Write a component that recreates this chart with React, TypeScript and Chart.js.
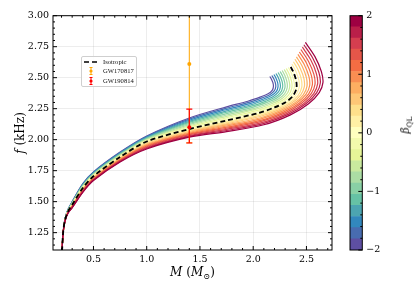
import React, { useEffect, useRef } from 'react';
import { Chart, registerables } from 'chart.js';
Chart.register(...registerables);

// ---------- data ----------
const betaValues = [-2.0, -1.8, -1.6, -1.4, -1.2, -1.0, -0.8, -0.6, -0.4, -0.2, 0.0, 0.2, 0.4, 0.6, 0.8, 1.0, 1.2, 1.4, 1.6, 1.8, 2.0];

// shared mass points of the low-mass branch (M_sun)
const lowMass = [0.205, 0.215, 0.232, 0.26, 0.3, 0.4, 0.5, 0.75, 1.0, 1.4, 1.75];
// f (kHz) at lowMass, one row per beta
const lowFreq = [
  [1.10, 1.25, 1.360, 1.435, 1.500, 1.645, 1.740, 1.900, 2.030, 2.175, 2.265],
  [1.10, 1.25, 1.359, 1.434, 1.498, 1.642, 1.737, 1.896, 2.026, 2.166, 2.254],
  [1.10, 1.25, 1.358, 1.432, 1.495, 1.638, 1.733, 1.892, 2.021, 2.157, 2.243],
  [1.10, 1.25, 1.357, 1.431, 1.493, 1.635, 1.730, 1.888, 2.017, 2.148, 2.232],
  [1.10, 1.25, 1.356, 1.429, 1.490, 1.631, 1.726, 1.884, 2.012, 2.139, 2.221],
  [1.10, 1.25, 1.355, 1.428, 1.488, 1.628, 1.723, 1.880, 2.008, 2.130, 2.210],
  [1.10, 1.25, 1.354, 1.426, 1.485, 1.624, 1.719, 1.876, 2.003, 2.121, 2.199],
  [1.10, 1.25, 1.353, 1.425, 1.483, 1.621, 1.716, 1.872, 1.999, 2.112, 2.188],
  [1.10, 1.25, 1.352, 1.423, 1.480, 1.617, 1.712, 1.868, 1.994, 2.103, 2.177],
  [1.10, 1.25, 1.351, 1.422, 1.478, 1.614, 1.709, 1.864, 1.990, 2.094, 2.166],
  [1.10, 1.25, 1.350, 1.420, 1.475, 1.610, 1.705, 1.860, 1.985, 2.085, 2.155],
  [1.10, 1.25, 1.349, 1.419, 1.473, 1.607, 1.702, 1.856, 1.979, 2.079, 2.146],
  [1.10, 1.25, 1.348, 1.417, 1.470, 1.603, 1.698, 1.852, 1.973, 2.072, 2.137],
  [1.10, 1.25, 1.347, 1.416, 1.468, 1.600, 1.695, 1.848, 1.967, 2.066, 2.128],
  [1.10, 1.25, 1.346, 1.414, 1.465, 1.596, 1.691, 1.844, 1.961, 2.059, 2.119],
  [1.10, 1.25, 1.345, 1.413, 1.463, 1.593, 1.688, 1.840, 1.955, 2.053, 2.110],
  [1.10, 1.25, 1.344, 1.411, 1.460, 1.589, 1.684, 1.836, 1.949, 2.046, 2.101],
  [1.10, 1.25, 1.343, 1.410, 1.458, 1.586, 1.681, 1.832, 1.943, 2.040, 2.092],
  [1.10, 1.25, 1.342, 1.408, 1.455, 1.582, 1.677, 1.828, 1.937, 2.033, 2.083],
  [1.10, 1.25, 1.341, 1.407, 1.453, 1.579, 1.674, 1.824, 1.931, 2.027, 2.074],
  [1.10, 1.25, 1.340, 1.405, 1.450, 1.575, 1.670, 1.820, 1.925, 2.020, 2.065],
];
// high-mass branch (turning region), mass per beta
const highMass = [
  [1.95, 2.07, 2.14, 2.18, 2.19, 2.185, 2.17, 2.156],
  [1.96, 2.083, 2.156, 2.199, 2.212, 2.207, 2.191, 2.175],
  [1.97, 2.096, 2.172, 2.218, 2.233, 2.229, 2.212, 2.195],
  [1.98, 2.109, 2.188, 2.237, 2.255, 2.251, 2.233, 2.214],
  [1.99, 2.122, 2.204, 2.256, 2.276, 2.273, 2.254, 2.234],
  [2.00, 2.135, 2.22, 2.275, 2.298, 2.295, 2.275, 2.253],
  [2.01, 2.148, 2.236, 2.294, 2.319, 2.317, 2.296, 2.272],
  [2.02, 2.161, 2.252, 2.313, 2.341, 2.339, 2.317, 2.292],
  [2.03, 2.174, 2.268, 2.332, 2.362, 2.361, 2.338, 2.311],
  [2.04, 2.187, 2.284, 2.351, 2.384, 2.383, 2.359, 2.331],
  [2.05, 2.20, 2.30, 2.37, 2.405, 2.405, 2.38, 2.35],
  [2.055, 2.215, 2.322, 2.395, 2.43, 2.429, 2.40, 2.364],
  [2.06, 2.23, 2.344, 2.42, 2.455, 2.452, 2.42, 2.378],
  [2.065, 2.245, 2.366, 2.445, 2.48, 2.476, 2.44, 2.392],
  [2.07, 2.26, 2.388, 2.47, 2.505, 2.499, 2.46, 2.406],
  [2.075, 2.275, 2.41, 2.495, 2.53, 2.523, 2.48, 2.42],
  [2.08, 2.29, 2.432, 2.52, 2.555, 2.546, 2.50, 2.434],
  [2.085, 2.305, 2.454, 2.545, 2.58, 2.57, 2.52, 2.448],
  [2.09, 2.32, 2.476, 2.57, 2.605, 2.593, 2.54, 2.462],
  [2.095, 2.335, 2.498, 2.595, 2.63, 2.617, 2.56, 2.476],
  [2.10, 2.35, 2.52, 2.62, 2.655, 2.64, 2.58, 2.49],
];
const highFreq = [
  [2.31, 2.345, 2.37, 2.40, 2.43, 2.46, 2.49, 2.51],
  [2.301, 2.337, 2.363, 2.395, 2.428, 2.461, 2.495, 2.518],
  [2.291, 2.328, 2.356, 2.39, 2.426, 2.462, 2.50, 2.526],
  [2.282, 2.32, 2.349, 2.385, 2.424, 2.463, 2.505, 2.534],
  [2.272, 2.311, 2.342, 2.38, 2.422, 2.464, 2.51, 2.542],
  [2.263, 2.303, 2.335, 2.375, 2.42, 2.465, 2.515, 2.55],
  [2.253, 2.294, 2.328, 2.37, 2.418, 2.466, 2.52, 2.558],
  [2.244, 2.286, 2.321, 2.365, 2.416, 2.467, 2.525, 2.566],
  [2.234, 2.277, 2.314, 2.36, 2.414, 2.468, 2.53, 2.574],
  [2.225, 2.269, 2.307, 2.355, 2.412, 2.469, 2.535, 2.582],
  [2.215, 2.26, 2.30, 2.35, 2.41, 2.47, 2.54, 2.59],
  [2.206, 2.254, 2.299, 2.353, 2.415, 2.478, 2.553, 2.61],
  [2.196, 2.248, 2.298, 2.356, 2.42, 2.486, 2.566, 2.629],
  [2.187, 2.242, 2.297, 2.359, 2.425, 2.494, 2.579, 2.649],
  [2.177, 2.236, 2.296, 2.362, 2.43, 2.502, 2.592, 2.668],
  [2.168, 2.23, 2.295, 2.365, 2.435, 2.51, 2.605, 2.688],
  [2.158, 2.224, 2.294, 2.368, 2.44, 2.518, 2.618, 2.707],
  [2.149, 2.218, 2.293, 2.371, 2.445, 2.526, 2.631, 2.727],
  [2.139, 2.212, 2.292, 2.374, 2.45, 2.534, 2.644, 2.746],
  [2.13, 2.206, 2.291, 2.377, 2.455, 2.542, 2.657, 2.766],
  [2.12, 2.20, 2.29, 2.38, 2.46, 2.55, 2.67, 2.785],
];

const isoMass = [0.205, 0.215, 0.232, 0.26, 0.3, 0.4, 0.5, 0.75, 1.0, 1.4, 1.75, 2.05, 2.20, 2.30, 2.37, 2.405, 2.405, 2.38, 2.35];
const isoFreq = [1.10, 1.25, 1.350, 1.420, 1.475, 1.610, 1.705, 1.860, 1.985, 2.085, 2.155, 2.215, 2.26, 2.30, 2.35, 2.41, 2.47, 2.54, 2.59];

const eventNames = ['GW170817', 'GW190814'];
const eventMass = [1.4, 1.4];
const eventFreq = [2.61, 2.10];
const eventFreqLow = [1.975, 1.973];
const eventFreqHigh = [3.35, 2.247];
const eventColors = ['#ffa500', '#ff0000'];

const xTicks = [0.5, 1.0, 1.5, 2.0, 2.5];
const yTicks = [1.25, 1.5, 1.75, 2.0, 2.25, 2.5, 2.75, 3.0];
const cbTicks = [-2, -1, 0, 1, 2];

// ---------- colours ----------
const SPECTRAL = [
  [158, 1, 66], [213, 62, 79], [244, 109, 67], [253, 174, 97], [254, 224, 139],
  [255, 255, 191], [230, 245, 152], [171, 221, 164], [102, 194, 165], [50, 136, 189], [94, 79, 162],
];
function spectral(v: number) {
  const s = Math.max(0, Math.min(1, v)) * 10;
  const i = Math.min(9, Math.floor(s));
  const t = s - i;
  const a = SPECTRAL[i], b = SPECTRAL[i + 1];
  const c = a.map((av, j) => Math.round(av + (b[j] - av) * t));
  return `rgb(${c[0]},${c[1]},${c[2]})`;
}
const colorForBeta = (beta: number) => spectral((2 - beta) / 4); // Spectral_r

const SERIF = "'DejaVu Serif', serif";

// ---------- plugins ----------
const errorBarPlugin = {
  id: 'errorBars',
  beforeDatasetDraw(chart: any, args: any) {
    const ds = chart.data.datasets[args.index];
    if (!ds.errLow) return;
    const { ctx, chartArea: a, scales } = chart;
    const x = scales.x, y = scales.y;
    ctx.save();
    ctx.beginPath();
    ctx.rect(a.left, a.top, a.right - a.left, a.bottom - a.top);
    ctx.clip();
    ctx.strokeStyle = ds.borderColor;
    ctx.lineWidth = ds.errWidth;
    ds.data.forEach((p: any, i: number) => {
      const px = x.getPixelForValue(p.x);
      const lo = y.getPixelForValue(ds.errLow[i]);
      const hi = y.getPixelForValue(ds.errHigh[i]);
      ctx.beginPath();
      ctx.moveTo(px, lo); ctx.lineTo(px, hi);
      ctx.moveTo(px - 3, lo); ctx.lineTo(px + 3, lo);
      ctx.moveTo(px - 3, hi); ctx.lineTo(px + 3, hi);
      ctx.stroke();
    });
    ctx.restore();
  },
};

const frameTicksPlugin = {
  id: 'frameTicks',
  afterDraw(chart: any) {
    const { ctx, chartArea: a, scales } = chart;
    const x = scales.x, y = scales.y;
    ctx.save();
    ctx.strokeStyle = '#000';
    ctx.lineWidth = 1;
    ctx.strokeRect(a.left, a.top, a.right - a.left, a.bottom - a.top);
    ctx.beginPath();
    for (let i = Math.ceil(x.min * 10); i <= Math.floor(x.max * 10); i++) {
      const px = x.getPixelForValue(i / 10);
      const len = i % 5 === 0 ? 4 : 2;
      ctx.moveTo(px, a.bottom); ctx.lineTo(px, a.bottom - len);
      ctx.moveTo(px, a.top); ctx.lineTo(px, a.top + len);
    }
    for (let i = Math.ceil(y.min * 20); i <= Math.floor(y.max * 20); i++) {
      const py = y.getPixelForValue(i / 20);
      const len = i % 5 === 0 ? 4 : 2;
      ctx.moveTo(a.left, py); ctx.lineTo(a.left + len, py);
      ctx.moveTo(a.right, py); ctx.lineTo(a.right - len, py);
    }
    ctx.stroke();
    ctx.restore();
  },
};

const cbFramePlugin = {
  id: 'cbFrame',
  afterDraw(chart: any) {
    const { ctx, chartArea: a, scales } = chart;
    const y = scales.y;
    ctx.save();
    ctx.strokeStyle = '#000';
    ctx.lineWidth = 1;
    ctx.strokeRect(a.left, a.top, a.right - a.left, a.bottom - a.top);
    ctx.beginPath();
    for (let i = -10; i <= 10; i++) {
      const py = y.getPixelForValue(i / 5);
      const len = i % 5 === 0 ? 4 : 2;
      ctx.moveTo(a.right, py); ctx.lineTo(a.right - len, py);
    }
    ctx.stroke();
    ctx.restore();
  },
};

export default function App() {
  const mainRef = useRef<HTMLCanvasElement>(null);
  const cbRef = useRef<HTMLCanvasElement>(null);

  useEffect(() => {
    const curveSets = betaValues.map((beta, k) => {
      const pts = lowMass.map((m, j) => ({ x: m, y: lowFreq[k][j] }))
        .concat(highMass[k].map((m, j) => ({ x: m, y: highFreq[k][j] })));
      return {
        data: pts,
        showLine: true,
        borderColor: colorForBeta(beta),
        borderWidth: 1.2,
        pointRadius: 0,
        tension: 0.3,
        fill: false,
      };
    }).reverse();

    const eventSets = eventNames.map((name, i) => ({
      label: name,
      data: [{ x: eventMass[i], y: eventFreq[i] }],
      errLow: [eventFreqLow[i]],
      errHigh: [eventFreqHigh[i]],
      errWidth: i === 1 ? 1.2 : 1,
      borderColor: eventColors[i],
      backgroundColor: eventColors[i],
      pointRadius: 2,
      pointBorderWidth: 0,
      showLine: false,
    })).reverse();

    const isoSet = {
      label: 'Isotropic',
      data: isoMass.map((m, j) => ({ x: m, y: isoFreq[j] })),
      showLine: true,
      borderColor: '#000',
      borderWidth: 1.8,
      borderDash: [5, 3],
      pointRadius: 0,
      tension: 0.3,
      fill: false,
    };

    const tickFont = { family: SERIF, size: 9.5 };

    const main = new Chart(mainRef.current as HTMLCanvasElement, {
      type: 'scatter',
      data: { datasets: [...eventSets, isoSet, ...curveSets] as any },
      options: {
        animation: false,
        responsive: false,
        devicePixelRatio: 1,
        layout: { padding: { left: 0, top: 15.7, right: 83, bottom: 0 } },
        plugins: { legend: { display: false }, tooltip: { enabled: false } },
        scales: {
          x: {
            type: 'linear',
            min: 0.12,
            max: 2.74,
            afterBuildTicks: (s: any) => { s.ticks = xTicks.map((v) => ({ value: v })); },
            afterFit: (s: any) => { s.height = 41; },
            grid: { color: 'rgba(0,0,0,0.09)', lineWidth: 0.8, drawTicks: false },
            border: { display: false },
            ticks: {
              color: '#000', font: tickFont, padding: 4, maxRotation: 0, autoSkip: false,
              callback: (v: any) => Number(v).toFixed(1),
            },
          },
          y: {
            type: 'linear',
            min: 1.11,
            max: 3.0,
            afterBuildTicks: (s: any) => { s.ticks = yTicks.map((v) => ({ value: v })); },
            afterFit: (s: any) => { s.width = 53; },
            grid: { color: 'rgba(0,0,0,0.09)', lineWidth: 0.8, drawTicks: false },
            border: { display: false },
            ticks: {
              color: '#000', font: tickFont, padding: 4, autoSkip: false,
              callback: (v: any) => Number(v).toFixed(2),
            },
          },
        },
      } as any,
      plugins: [errorBarPlugin, frameTicksPlugin],
    });

    const nb = betaValues.length;
    const bandSets = betaValues.map((beta, i) => ({
      data: [[-2 + (i * 4) / nb, -2 + ((i + 1) * 4) / nb]],
      backgroundColor: colorForBeta(beta),
      borderWidth: 0,
      barPercentage: 1,
      categoryPercentage: 1,
      grouped: false,
    }));

    const cb = new Chart(cbRef.current as HTMLCanvasElement, {
      type: 'bar',
      data: { labels: [''], datasets: bandSets as any },
      options: {
        animation: false,
        responsive: false,
        devicePixelRatio: 1,
        layout: { padding: { left: 10, top: 15.7, right: 0, bottom: 41 } },
        plugins: { legend: { display: false }, tooltip: { enabled: false } },
        scales: {
          x: { display: false },
          y: {
            position: 'right',
            min: -2,
            max: 2,
            afterBuildTicks: (s: any) => { s.ticks = cbTicks.map((v) => ({ value: v })); },
            afterFit: (s: any) => { s.width = 52.7; },
            grid: { display: false, drawTicks: false },
            border: { display: false },
            ticks: {
              color: '#000', font: tickFont, padding: 4,
              callback: (v: any) => (Number(v) < 0 ? '\u2212' + Math.abs(Number(v)) : String(v)),
            },
          },
        },
      } as any,
      plugins: [cbFramePlugin],
    });

    return () => { main.destroy(); cb.destroy(); };
  }, []);

  const legendRow = (top: number, sample: React.ReactNode, text: string) => (
    <div style={{ position: 'absolute', left: 0, top, height: 10, width: '100%' }}>
      <div style={{ position: 'absolute', left: 1, top: 0 }}>{sample}</div>
      <div style={{ position: 'absolute', left: 21, top: 0, lineHeight: '10px', whiteSpace: 'nowrap', color: '#111' }}>{text}</div>
    </div>
  );
  const errSample = (c: string) => (
    <svg width={16} height={10}>
      <line x1={8} y1={1.5} x2={8} y2={8.5} stroke={c} strokeWidth={1} />
      <line x1={6.5} y1={1.5} x2={9.5} y2={1.5} stroke={c} strokeWidth={1} />
      <line x1={6.5} y1={8.5} x2={9.5} y2={8.5} stroke={c} strokeWidth={1} />
      <circle cx={8} cy={5} r={1.6} fill={c} />
    </svg>
  );

  return (
    <div style={{ position: 'fixed', left: 0, top: 0, width: 415, height: 291, background: '#fff', overflow: 'hidden', fontFamily: SERIF }}>
      <canvas ref={mainRef} width={415} height={291} style={{ position: 'absolute', left: 0, top: 0 }} />
      <canvas ref={cbRef} width={75} height={291} style={{ position: 'absolute', left: 340, top: 0 }} />

      <div style={{
        position: 'absolute', left: 81, top: 56, width: 56, height: 31, boxSizing: 'border-box',
        border: '1px solid #cfcfcf', borderRadius: 2, background: 'rgba(255,255,255,0.85)',
        fontFamily: "'Liberation Serif', serif", fontSize: 6.6,
      }}>
        {legendRow(0, (
          <svg width={16} height={10}>
            <line x1={1} y1={5} x2={15} y2={5} stroke="#000" strokeWidth={1.6} strokeDasharray="5 3" />
          </svg>
        ), 'Isotropic')}
        {legendRow(9, errSample(eventColors[0]), eventNames[0])}
        {legendRow(18.5, errSample(eventColors[1]), eventNames[1])}
      </div>

      <div style={{ position: 'absolute', left: 20, top: 133, transform: 'translate(-50%, -50%) rotate(-90deg)', whiteSpace: 'nowrap', fontSize: 12, color: '#000' }}>
        <i>f</i> (kHz)
      </div>
      <div style={{ position: 'absolute', left: 192.5, top: 273, transform: 'translate(-50%, -50%)', whiteSpace: 'nowrap', fontSize: 12, color: '#000' }}>
        <i>M</i> (<i>M</i><sub style={{ fontSize: '70%' }}>⊙</sub>)
      </div>
      <div style={{ position: 'absolute', left: 405, top: 125, transform: 'translate(-50%, -50%) rotate(-90deg)', whiteSpace: 'nowrap', fontSize: 10.5, lineHeight: '12px', color: '#000' }}>
        <i>β</i><sub style={{ fontSize: '70%', lineHeight: 0 }}>QL</sub>
      </div>
    </div>
  );
}
